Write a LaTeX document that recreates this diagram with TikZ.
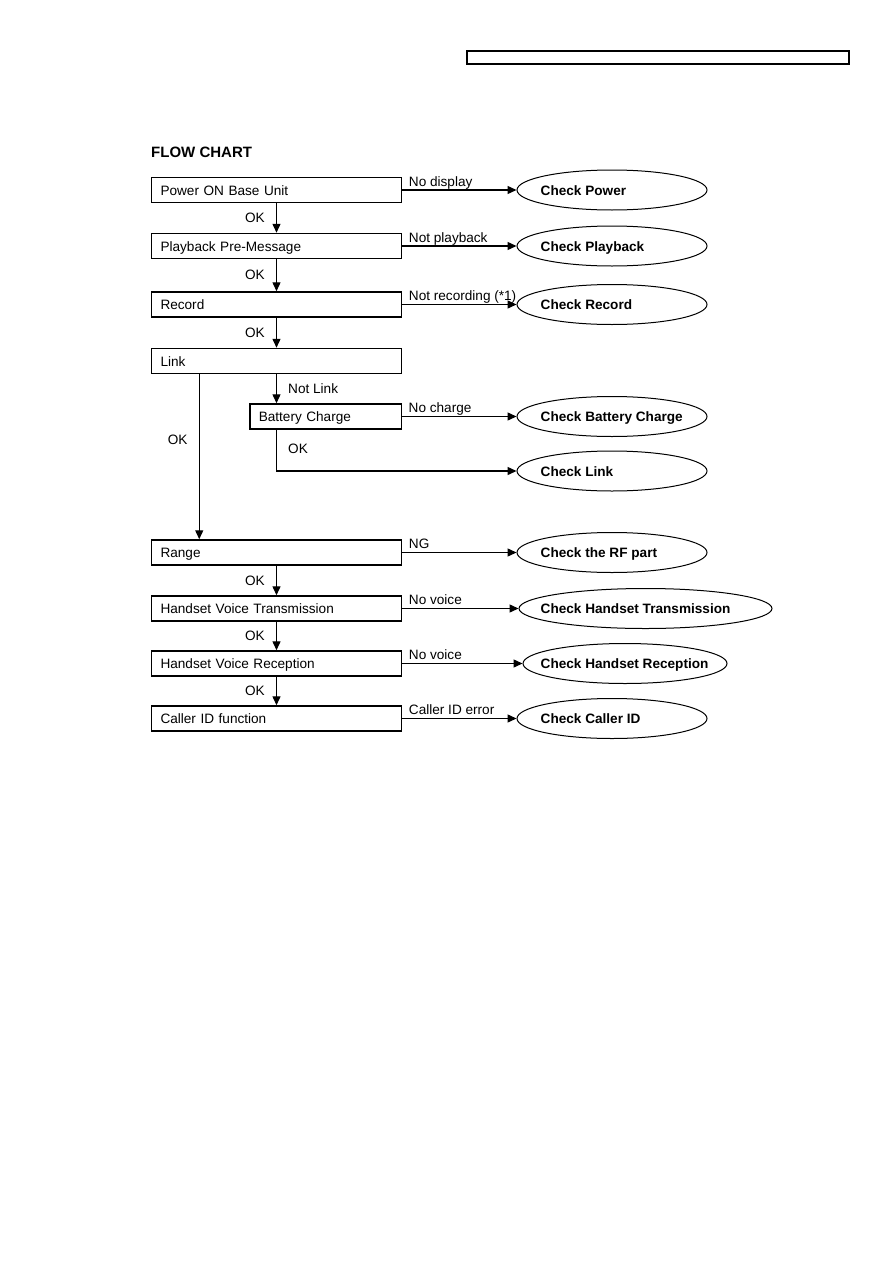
\documentclass[tikz,border=0pt]{standalone}
\usepackage{fontspec}
\setmainfont{Liberation Sans}
\usetikzlibrary{shapes.geometric,arrows.meta,positioning}

\begin{document}
\begin{tikzpicture}[
	x=1pt,y=-1pt,
	font=\fontsize{13.6pt}{16pt}\selectfont,
	sbox/.style={draw,line width=1.5pt,minimum height=25pt,inner xsep=9pt,inner ysep=0pt,
		text width=#1,align=left,text height=11.5pt,text depth=1.5pt},
	chk/.style={ellipse,draw,line width=1pt,minimum width=#1,minimum height=40pt,inner sep=0pt},
	chktxt/.style={anchor=west,inner sep=0pt,text height=11.5pt,text depth=1.5pt,
		font=\fontsize{13.6pt}{16pt}\selectfont\bfseries},
	flow/.style={draw,line width=1.4pt,-{Triangle[length=9pt,width=8pt]}},
	elbl/.style={anchor=base west,inner sep=0pt,xshift=6pt,yshift=4pt},
	okl/.style={anchor=east,inner sep=0pt,xshift=-11pt},
	okr/.style={anchor=west,inner sep=0pt,xshift=11pt}
	]
	\useasboundingbox (0,0) rectangle (893,1263);
	\draw[line width=1.3pt] (467,51) rectangle (849,64);
	\node[anchor=west,inner sep=0pt,font=\fontsize{15pt}{18pt}\selectfont\bfseries] (title) at (151,152.5) {FLOW CHART};

	% test steps
	\node[sbox=232pt] (pow) at (276.5,190) {Power ON Base Unit};
	\node[sbox=232pt] (pbk) at (276.5,246) {Playback Pre-Message};
	\node[sbox=232pt] (rec) at (276.5,304.5) {Record};
	\node[sbox=232pt] (link) at (276.5,361) {Link};
	\node[sbox=133.5pt] (bat) at (325.5,416.5) {Battery Charge};
	\node[sbox=232pt] (range) at (276.5,552.5) {Range};
	\node[sbox=232pt] (hvt) at (276.5,608.5) {Handset Voice Transmission};
	\node[sbox=232pt] (hvr) at (276.5,663.5) {Handset Voice Reception};
	\node[sbox=232pt] (cid) at (276.5,718.5) {Caller ID function};

	% checks
	\node[chk=190pt] (cpow) at (612,190) {};
	\node[chk=190pt] (cpbk) at (612,246) {};
	\node[chk=190pt] (crec) at (612,304.5) {};
	\node[chk=190pt] (cbat) at (612,416.5) {};
	\node[chk=190pt] (clink) at (612,471) {};
	\node[chk=190pt] (crf) at (612,552.5) {};
	\node[chk=253pt] (chtx) at (645.5,608.5) {};
	\node[chk=204pt] (chrx) at (625,663.5) {};
	\node[chk=190pt] (ccid) at (612,718.5) {};
	\node[chktxt,right=24pt of cpow.west] (tpow) {Check Power};
	\node[chktxt,right=24pt of cpbk.west] (tpbk) {Check Playback};
	\node[chktxt,right=24pt of crec.west] (trec) {Check Record};
	\node[chktxt,right=24pt of cbat.west] (tbat) {Check Battery Charge};
	\node[chktxt,right=24pt of clink.west] (tlink) {Check Link};
	\node[chktxt,right=24pt of crf.west] (trf) {Check the RF part};
	\node[chktxt,right=22pt of chtx.west] (thtx) {Check Handset Transmission};
	\node[chktxt,right=18pt of chrx.west] (thrx) {Check Handset Reception};
	\node[chktxt,right=24pt of ccid.west] (tcid) {Check Caller ID};

	% main line
	\draw[flow] (pow) -- node[okl]{OK} (pbk);
	\draw[flow] (pbk) -- node[okl]{OK} (rec);
	\draw[flow] (rec) -- node[okl]{OK} (link);
	\draw[flow] (link.south) -- node[okr]{Not Link} (link.south |- bat.north);
	\draw[flow] (link.south |- bat.south) |- node[okr,pos=0.23]{OK} (clink);
	\draw[flow] ([xshift=48.5pt]link.south west) -- node[okl,pos=0.4]{OK} ([xshift=48.5pt]range.north west);
	\draw[flow] (range) -- node[okl]{OK} (hvt);
	\draw[flow] (hvt) -- node[okl]{OK} (hvr);
	\draw[flow] (hvr) -- node[okl]{OK} (cid);

	% failures
	\draw[flow] (pow) -- node[elbl,pos=0]{No display} (cpow);
	\draw[flow] (pbk) -- node[elbl,pos=0]{Not playback} (cpbk);
	\draw[flow] (rec) -- node[elbl,pos=0]{Not recording (*1)} (crec);
	\draw[flow] (bat) -- node[elbl,pos=0]{No charge} (cbat);
	\draw[flow] (range) -- node[elbl,pos=0]{NG} (crf);
	\draw[flow] (hvt) -- node[elbl,pos=0]{No voice} (chtx);
	\draw[flow] (hvr) -- node[elbl,pos=0]{No voice} (chrx);
	\draw[flow] (cid) -- node[elbl,pos=0]{Caller ID error} (ccid);
\end{tikzpicture}
\end{document}
